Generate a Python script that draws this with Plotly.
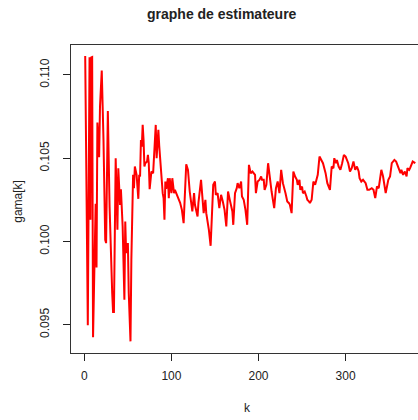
import plotly.graph_objects as go

k = [1, 4, 6, 7, 8, 9, 10, 13, 14, 15, 17, 18, 20, 22, 24, 25, 27, 29, 32, 33,
     34, 35, 36, 38, 39, 41, 42, 44, 46, 47, 48, 50, 51, 53, 54, 56, 57, 58, 60, 62,
     63, 64, 65, 66, 67, 68, 69, 70, 72, 73, 74, 75, 77, 79, 82, 83, 85, 86, 88, 90,
     91, 92, 93, 94, 96, 97, 98, 100, 101, 103, 104, 106, 107, 109, 110, 112, 114, 117, 119, 121,
     124, 126, 127, 130, 131, 134, 136, 137, 139, 140, 143, 145, 148, 150, 151, 153, 155, 157, 159, 161,
     163, 165, 167, 170, 171, 173, 175, 176, 178, 180, 181, 183, 185, 187, 189, 191, 193, 196, 197, 199,
     201, 203, 204, 206, 207, 209, 211, 213, 215, 218, 220, 222, 224, 226, 228, 231, 233, 235, 236, 238,
     240, 242, 244, 245, 247, 248, 250, 251, 253, 255, 256, 258, 259, 261, 263, 265, 267, 268, 270, 272,
     274, 277, 279, 282, 284, 286, 287, 289, 290, 292, 294, 296, 298, 300, 302, 303, 305, 307, 309, 311,
     313, 315, 316, 318, 320, 323, 325, 327, 330, 332, 334, 336, 338, 341, 343, 346, 349, 351, 353, 356,
     358, 360, 363, 364, 366, 368, 370, 371, 373, 374, 376, 377, 380]

gama = [0.11114, 0.09496, 0.11106, 0.1013, 0.11106, 0.11108, 0.09424, 0.10226, 0.09844, 0.10714,
        0.10506, 0.1081, 0.11026, 0.1061, 0.1001, 0.0999, 0.10784, 0.1021, 0.0969, 0.09576,
        0.09576, 0.1031, 0.105, 0.1007, 0.1044, 0.1022, 0.10314, 0.1009, 0.0965, 0.1012,
        0.0993, 0.0999, 0.0969, 0.094, 0.0989, 0.104, 0.1032, 0.1045, 0.104, 0.10256,
        0.104, 0.1039, 0.1061, 0.1057, 0.107, 0.1061, 0.1045, 0.1047, 0.1048, 0.1052,
        0.1047, 0.10314, 0.1042, 0.1041, 0.107, 0.105, 0.1067, 0.10574, 0.10418, 0.1029,
        0.1026, 0.1013, 0.1036, 0.10316, 0.1038, 0.1026, 0.1038, 0.1029, 0.1038, 0.1029,
        0.1031, 0.10286, 0.10265, 0.1025, 0.10232, 0.1019, 0.1011, 0.10464, 0.1043, 0.1030,
        0.1018, 0.1029, 0.1022, 0.1015, 0.10232, 0.1037, 0.1025, 0.1017, 0.1025, 0.1017,
        0.1007, 0.09974, 0.1034, 0.1036, 0.1028, 0.1029, 0.1020, 0.1028, 0.1024, 0.1019,
        0.1009, 0.1030, 0.1025, 0.1018, 0.1010, 0.1029, 0.1032, 0.1035, 0.1032, 0.1036,
        0.1027, 0.1025, 0.1019, 0.1010, 0.1046, 0.1041, 0.1042, 0.104, 0.1029, 0.1036,
        0.1037, 0.1039, 0.1037, 0.1037, 0.1031, 0.1034, 0.1047, 0.1037, 0.1030, 0.1020,
        0.1032, 0.1036, 0.1029, 0.1043, 0.1035, 0.1029, 0.1024, 0.1023, 0.1022, 0.1017,
        0.1042, 0.1039, 0.1037, 0.1034, 0.1037, 0.1031, 0.1033, 0.1029, 0.1030, 0.1027,
        0.1025, 0.1024, 0.1023, 0.1025, 0.1036, 0.1034, 0.1039, 0.104, 0.1051, 0.1049,
        0.1047, 0.1041, 0.1035, 0.1031, 0.1045, 0.1044, 0.105, 0.1047, 0.1049, 0.1045,
        0.1043, 0.1047, 0.1052, 0.1051, 0.1048, 0.1047, 0.1042, 0.1044, 0.1048, 0.1043,
        0.1045, 0.1042, 0.1038, 0.1036, 0.1037, 0.1035, 0.1031, 0.1031, 0.1032, 0.1031,
        0.1026, 0.1033, 0.1032, 0.1043, 0.1039, 0.1029, 0.1037, 0.1039, 0.1047, 0.1049,
        0.1048, 0.1045, 0.1041, 0.1043, 0.104, 0.1042, 0.1039, 0.1044, 0.1043, 0.1044,
        0.1047, 0.1048, 0.1047]

x_ticks = [0, 100, 200, 300]
y_ticks = [0.095, 0.100, 0.105, 0.110]
y_tick_labels = ["0.095", "0.100", "0.105", "0.110"]

FONT = "Liberation Sans, Arial, Helvetica, sans-serif"

fig = go.Figure()
fig.add_trace(go.Scatter(x=k, y=gama, mode="lines",
                         line=dict(color="#ff0000", width=2), showlegend=False))

fig.update_layout(
    width=418, height=420,
    margin=dict(l=71, r=0, t=45, b=67),
    paper_bgcolor="white", plot_bgcolor="white",
    font=dict(family=FONT, size=12, color="#222"),
    xaxis=dict(range=[-15.3, 383.1], tickvals=x_ticks, ticks="outside", ticklen=7,
               tickcolor="#222", showline=True, linecolor="#333", linewidth=1,
               mirror=True, showgrid=False, zeroline=False, ticklabelstandoff=5,
               tickfont=dict(size=12, color="#222")),
    yaxis=dict(range=[0.0933, 0.1118], tickvals=y_ticks, ticktext=y_tick_labels,
               ticks="outside", ticklen=7, tickcolor="#222", showline=True,
               linecolor="#333", linewidth=1, mirror=False, showgrid=False,
               zeroline=False, tickangle=-90, ticklabelstandoff=9,
               tickfont=dict(size=12, color="#222")),
    annotations=[
        dict(text="<b>graphe de estimateure</b>", xref="paper", yref="paper",
             x=0.434, y=1.0 + 31 / 308.3, xanchor="center", yanchor="middle",
             showarrow=False, font=dict(size=14, color="#222", family=FONT)),
        dict(text="k", xref="paper", yref="paper", x=0.51, y=-0.177,
             xanchor="center", yanchor="middle", showarrow=False,
             font=dict(size=12, color="#222", family=FONT)),
        dict(text="gama[k]", xref="paper", yref="paper", x=-0.153, y=0.494,
             xanchor="center", yanchor="middle", showarrow=False, textangle=-90,
             font=dict(size=12, color="#222", family=FONT)),
    ],
)

fig.write_html("out.html")
